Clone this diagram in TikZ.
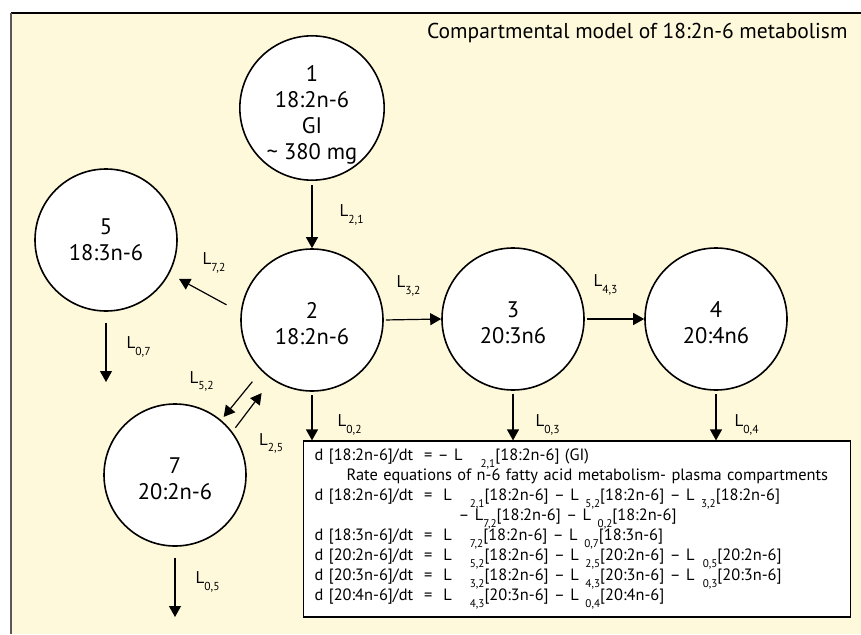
\documentclass[tikz,border=0pt]{standalone}
\usepackage{fontspec}
\setmainfont{PT Sans}
\usepackage{tikz}
\usetikzlibrary{positioning, arrows.meta}
\definecolor{paper}{RGB}{255,249,220}
\newcommand{\rt}[2][0pt]{L\hspace{#1}\raisebox{-0.4em}{\scalebox{0.68}{#2}}}

\begin{document}
\begin{tikzpicture}[x=1pt, y=-1pt,
		cmp/.style={
			draw, circle,
			fill=white,
			line width=1.6pt,
			minimum size=142pt,
			inner sep=0pt,
			align=center,
			font=\fontsize{22.5}{26}\selectfont},
		flow/.style={-{Triangle[length=11pt,width=12pt]}, line width=1.2pt},
		lab/.style={inner sep=1pt, font=\fontsize{17}{19}\selectfont},
		eqbox/.style={
			draw, fill=white,
			line width=1.2pt,
			minimum width=547pt,
			minimum height=176pt,
			text width=525pt,
			inner xsep=11pt,
			align=left,
			font=\fontsize{16.4}{20}\selectfont}
		]
		\useasboundingbox (0,0) rectangle (861,634);
		\fill[paper] (11,13) rectangle (861,634);
		\draw[line width=1.5pt] (11,13) -- (861,13);
		\draw[line width=2pt, black!65] (11,13) -- (11,634);
		\node[anchor=east, font=\fontsize{21.5}{24}\selectfont] (title) at (851,33) {Compartmental model of 18:2n-6 metabolism};
		\node [cmp] (c1) at (312,108) {\rule{0pt}{30pt}1\\18:2n-6\\GI\\\textasciitilde{} 380 mg};
		\node [cmp] (c2) at (312,320) {\rule{0pt}{24pt}2\\18:2n-6};
		\node [cmp] (c3) at (513,319) {\rule{0pt}{24pt}3\\20:3n6};
		\node [cmp] (c4) at (716,319) {\rule{0pt}{24pt}4\\20:4n6};
		\node [cmp] (c5) at (106,240) {5\\18:3n-6};
		\node [cmp] (c7) at (175,475) {\rule{0pt}{24pt}7\\20:2n-6};
		\coordinate (o7) at (106,382);
		\coordinate (o5) at (175,617);
		\node [eqbox] (eqs) at (577,529) {%
			d [18:2n-6]/dt \ = -- \rt[1.1em]{2,1}[18:2n-6] (GI)\\
			\hspace*{32pt}Rate equations of n-6 fatty acid metabolism- plasma compartments\\
			d [18:2n-6]/dt \ = \ \rt[1.1em]{2,1}[18:2n-6] -- \rt[0.4em]{5,2}[18:2n-6] -- \rt[0.4em]{3,2}[18:2n-6]\\
			\hspace*{144pt}-- \rt{7,2}[18:2n-6] -- \rt[0.4em]{0,2}[18:2n-6]\\
			d [18:3n-6]/dt \ = \ \rt[1.1em]{7,2}[18:2n-6] -- \rt[0.4em]{0,7}[18:3n-6]\\
			d [20:2n-6]/dt \ = \ \rt[1.1em]{5,2}[18:2n-6] -- \rt[0.4em]{2,5}[20:2n-6] -- \rt[0.5em]{0,5}[20:2n-6]\\
			d [20:3n-6]/dt \ = \ \rt[1.1em]{3,2}[18:2n-6] -- \rt[0.4em]{4,3}[20:3n-6] -- \rt[0.5em]{0,3}[20:3n-6]\\
			d [20:4n-6]/dt \ = \ \rt[1.1em]{4,3}[20:3n-6] -- \rt[0.4em]{0,4}[20:4n-6]};
		\draw[flow, shorten <=4pt] (c1.south) to node[lab, right=26pt] (l21) {\rt{2,1}} (c2.north);
		\draw[flow, shorten <=2pt] (c2.east) to node[lab, above=22pt, xshift=-4pt] (l32) {\rt{3,2}} (c3.west);
		\draw[flow, shorten <=2pt] (c3.east) to node[lab, above=22pt, xshift=-9pt] (l43) {\rt{4,3}} (c4.west);
		\draw[flow, shorten <=16pt, shorten >=11pt] (c2.174) to node[lab, above=18pt, xshift=9pt] (l72) {\rt{7,2}} (c5.-28);
		\draw[flow, shorten <=14pt, shorten >=4pt] (c2.225) to node[lab, left=26pt, yshift=14pt] (l52) {\rt{5,2}} (c7.50);
		\draw[flow, shorten <=5pt, shorten >=17pt] (c7.37.5) to node[lab, below=26pt, xshift=19pt] (l25) {\rt{2,5}} (c2.236);
		\draw[flow, shorten <=11pt] (c5.south) to node[lab, right=19pt] (l07) {\rt{0,7}} (o7);
		\draw[flow, shorten <=11pt] (c7.south) to node[lab, right=19pt] (l05) {\rt{0,5}} (o5);
		\draw[flow, shorten <=3pt] (c2.south) to node[lab, right=24pt, yshift=-9pt] (l02) {\rt{0,2}} (c2.south |- eqs.north);
		\draw[flow, shorten <=3pt] (c3.south) to node[lab, right=21pt, yshift=-9pt] (l03) {\rt{0,3}} (c3.south |- eqs.north);
		\draw[flow, shorten <=3pt] (c4.south) to node[lab, right=17pt, yshift=-9pt] (l04) {\rt{0,4}} (c4.south |- eqs.north);
		\end{tikzpicture}
\end{document}
